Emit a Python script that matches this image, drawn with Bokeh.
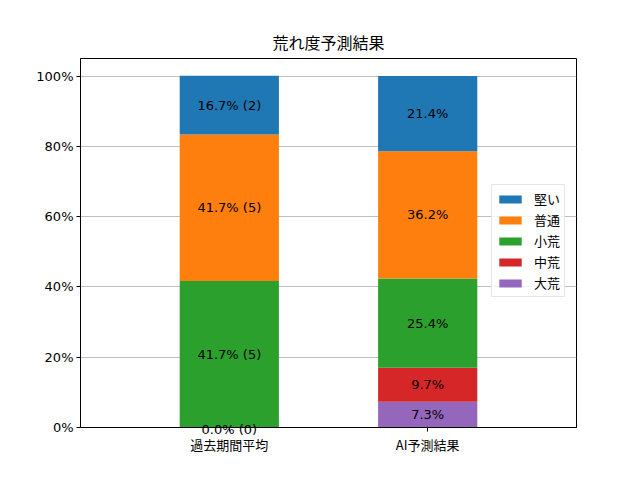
from bokeh.plotting import figure
from bokeh.models import (Range1d, FixedTicker, PrintfTickFormatter, Legend, LegendItem,
                          ColumnDataSource, Label, LinearAxis)
from bokeh.embed import file_html
from bokeh.resources import INLINE

# ---- data ----
categories = ["過去期間平均", "AI予測結果"]
levels = ["大荒", "中荒", "小荒", "普通", "堅い"]          # stacking order bottom -> top
colors = ["#9467bd", "#d62728", "#2ca02c", "#ff7f0e", "#1f77b4"]
past_counts = [0, 0, 5, 5, 2]
past_pct = [0.0, 0.0, 41.7, 41.7, 16.7]
ai_pct = [7.3, 9.7, 25.4, 36.2, 21.4]
y_ticks = [0, 20, 40, 60, 80, 100]

FONT = "Noto Sans CJK JP"
LATIN = "DejaVu Sans"

xs = list(range(len(categories)))
data = {"x": xs}
for i, lv in enumerate(levels):
    data[lv] = [past_pct[i], ai_pct[i]]
src = ColumnDataSource(data)

p = figure(width=624, height=464, output_backend="svg", toolbar_location=None,
           x_range=Range1d(-0.75, 1.75), y_range=Range1d(0, 105),
           min_border_left=80, min_border_right=48, min_border_top=58, min_border_bottom=37)
p.title.text = "荒れ度予測結果"
p.title.align = "center"
p.title.text_font = FONT
p.title.text_font_size = "16px"
p.title.text_font_style = "normal"
p.title.text_color = "black"

rs = p.vbar_stack(levels, x="x", width=0.5, color=colors, source=src, line_width=0)

# labels (centered on each stacked segment); labels sitting on the baseline go on an
# unclipped helper axis so they are not cut by the frame
zero_labels = {}
for ci, vals in enumerate([past_pct, ai_pct]):
    bottom = 0.0
    for i, v in enumerate(vals):
        txt = f"{v:.1f}% ({past_counts[i]})" if ci == 0 else f"{v:.1f}%"
        yc = bottom + v / 2
        if yc == 0:
            zero_labels[xs[ci]] = txt
        else:
            p.add_layout(Label(x=xs[ci], y=yc, text=txt, text_align="center",
                               text_baseline="middle", text_font=LATIN, text_font_size="13px",
                               text_color="black"))
        bottom += v

xax = p.xaxis[0]
yax = p.yaxis[0]
xax.ticker = FixedTicker(ticks=xs)
xax.major_label_overrides = {x: c for x, c in zip(xs, categories)}
xax.major_label_text_font = FONT
yax.ticker = FixedTicker(ticks=y_ticks)
yax.formatter = PrintfTickFormatter(format="%d%%")
yax.major_label_text_font = LATIN
for ax in (xax, yax):
    ax.major_label_text_font_size = "13px"
    ax.major_label_text_color = "black"
    ax.axis_line_color = "black"
    ax.major_tick_line_color = "black"
    ax.major_tick_out = 4
    ax.major_tick_in = 0
    ax.minor_tick_line_color = None
    ax.major_label_standoff = 3

if zero_labels:
    zax = LinearAxis(ticker=FixedTicker(ticks=list(zero_labels.keys())),
                     major_label_overrides=zero_labels)
    zax.axis_line_color = None
    zax.major_tick_line_color = None
    zax.minor_tick_line_color = None
    zax.major_tick_out = 0
    zax.major_tick_in = 0
    zax.major_label_standoff = -35
    zax.major_label_text_font = LATIN
    zax.major_label_text_font_size = "13px"
    zax.major_label_text_color = "black"
    p.add_layout(zax, "below")

items = [LegendItem(label=levels[i], renderers=[rs[i]]) for i in reversed(range(len(levels)))]
legend = Legend(items=items, location=(411, 130))
legend.label_text_font = FONT
legend.label_text_font_size = "13px"
legend.label_text_color = "black"
legend.glyph_width = 28
legend.glyph_height = 10
legend.label_height = 14
legend.spacing = 2
legend.padding = 4
legend.margin = 0
legend.label_standoff = 10
legend.border_line_color = "#cccccc"
legend.border_line_width = 1
legend.background_fill_alpha = 0.8
p.add_layout(legend, "center")

p.xgrid.grid_line_color = None
p.ygrid.grid_line_color = "#b0b0b0"
p.ygrid.grid_line_width = 0.8
p.outline_line_color = "black"
p.outline_line_width = 1

open("out.html", "w").write(file_html(p, INLINE))
